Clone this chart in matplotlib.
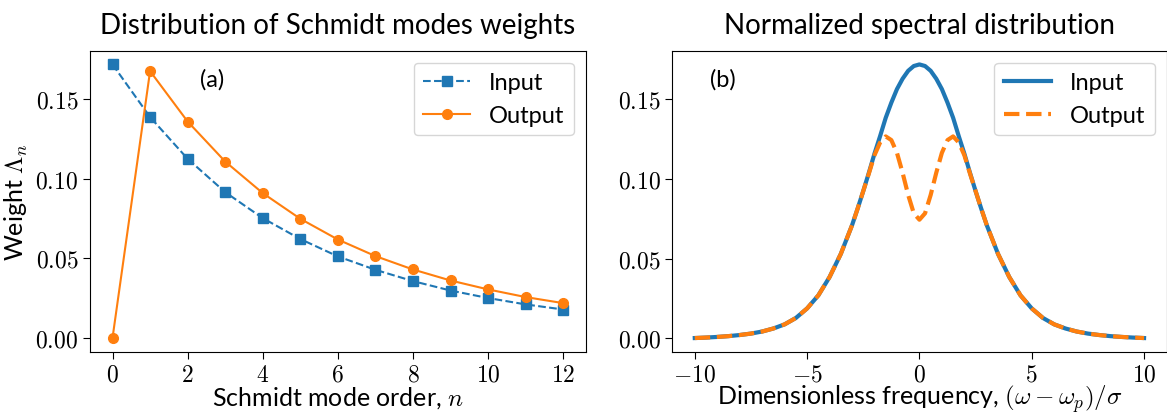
import matplotlib
matplotlib.use('Agg')
import matplotlib.pyplot as plt
from matplotlib.ticker import FuncFormatter, MultipleLocator

plt.rcParams['font.family'] = ['Lato', 'DejaVu Sans']
plt.rcParams['mathtext.fontset'] = 'cm'

# --- panel (a): Schmidt mode weights ---
modes = [0, 1, 2, 3, 4, 5, 6, 7, 8, 9, 10, 11, 12]
weights_in = [0.1716, 0.1386, 0.1124, 0.0915, 0.0752, 0.0621, 0.0512,
              0.0428, 0.0357, 0.0298, 0.0251, 0.0211, 0.0179]
weights_out = [0.0000, 0.1674, 0.1358, 0.1107, 0.0909, 0.0748, 0.0618,
               0.0514, 0.0430, 0.0361, 0.0305, 0.0257, 0.0219]

# --- panel (b): spectral distribution ---
freq = [-10, -9.5, -9, -8.5, -8, -7.5, -7, -6.5, -6, -5.5, -5, -4.5, -4, -3.5,
        -3, -2.75, -2.5, -2.25, -2, -1.75, -1.5, -1.25, -1, -0.75, -0.5, -0.25,
        0, 0.25, 0.5, 0.75, 1, 1.25, 1.5, 1.75, 2, 2.25, 2.5, 2.75, 3,
        3.5, 4, 4.5, 5, 5.5, 6, 6.5, 7, 7.5, 8, 8.5, 9, 9.5, 10]
spec_in = [0.0002, 0.0005, 0.0009, 0.0014, 0.0021, 0.0030, 0.0043, 0.0062,
           0.0088, 0.0128, 0.0188, 0.0270, 0.0385, 0.0530,
           0.0710, 0.0815, 0.0925, 0.1040, 0.1160, 0.1270, 0.1385, 0.1480,
           0.1565, 0.1630, 0.1680, 0.1710,
           0.1720, 0.1710, 0.1680, 0.1630, 0.1565, 0.1480, 0.1385, 0.1270,
           0.1160, 0.1040, 0.0925, 0.0815, 0.0710,
           0.0530, 0.0385, 0.0270, 0.0188, 0.0128, 0.0088, 0.0062, 0.0043,
           0.0030, 0.0021, 0.0014, 0.0009, 0.0005, 0.0002]
spec_out = [0.0002, 0.0005, 0.0009, 0.0014, 0.0021, 0.0030, 0.0043, 0.0062,
            0.0088, 0.0128, 0.0188, 0.0270, 0.0385, 0.0530,
            0.0710, 0.0815, 0.0925, 0.1035, 0.1150, 0.1230, 0.1268, 0.1245,
            0.1165, 0.1040, 0.0900, 0.0785,
            0.0745, 0.0785, 0.0900, 0.1040, 0.1165, 0.1245, 0.1268, 0.1230,
            0.1150, 0.1035, 0.0925, 0.0815, 0.0710,
            0.0530, 0.0385, 0.0270, 0.0188, 0.0128, 0.0088, 0.0062, 0.0043,
            0.0030, 0.0021, 0.0014, 0.0009, 0.0005, 0.0002]

fs = 17
fig = plt.figure(figsize=(11.67, 4.14), dpi=100)
ax1 = fig.add_axes([0.0771, 0.148, 0.4248, 0.727])
ax2 = fig.add_axes([0.5761, 0.148, 0.4235, 0.727])

ax1.plot(modes, weights_in, '--s', color='#1f77b4', lw=1.5, ms=7, label='Input')
ax1.plot(modes, weights_out, '-o', color='#ff7f0e', lw=1.5, ms=7, label='Output')
ax1.set_title('Distribution of Schmidt modes weights', fontsize=20, pad=13)
ax1.set_xlabel('Schmidt mode order, $n$', fontsize=18, va='baseline')
ax1.set_ylabel(r'Weight $\Lambda_n$', fontsize=18)
ax1.text(0.246, 0.906, '(a)', transform=ax1.transAxes, fontsize=fs,
         ha='center', va='center')
ax1.legend(fontsize=fs, loc='upper right')
ax1.xaxis.set_major_locator(MultipleLocator(2))

ax2.plot(freq, spec_in, '-', color='#1f77b4', lw=3, label='Input')
ax2.plot(freq, spec_out, '--', color='#ff7f0e', lw=3, label='Output')
ax2.set_title('Normalized spectral distribution', fontsize=20, pad=13)
ax2.set_xlabel(r'Dimensionless frequency, $(\omega-\omega_p)/\sigma$',
               fontsize=18, va='baseline')
ax2.text(0.103, 0.906, '(b)', transform=ax2.transAxes, fontsize=fs,
         ha='center', va='center')
ax2.legend(fontsize=fs, loc='upper right')

for ax in (ax1, ax2):
    ax.yaxis.set_major_formatter(FuncFormatter(lambda v, p: r'$%.2f$' % v))
    ax.xaxis.set_major_formatter(FuncFormatter(lambda v, p: r'$%g$' % v))
    ax.tick_params(labelsize=fs, length=5)
    ax.xaxis.set_label_coords(0.5, -0.174)

plt.savefig('out.png', dpi=100)
